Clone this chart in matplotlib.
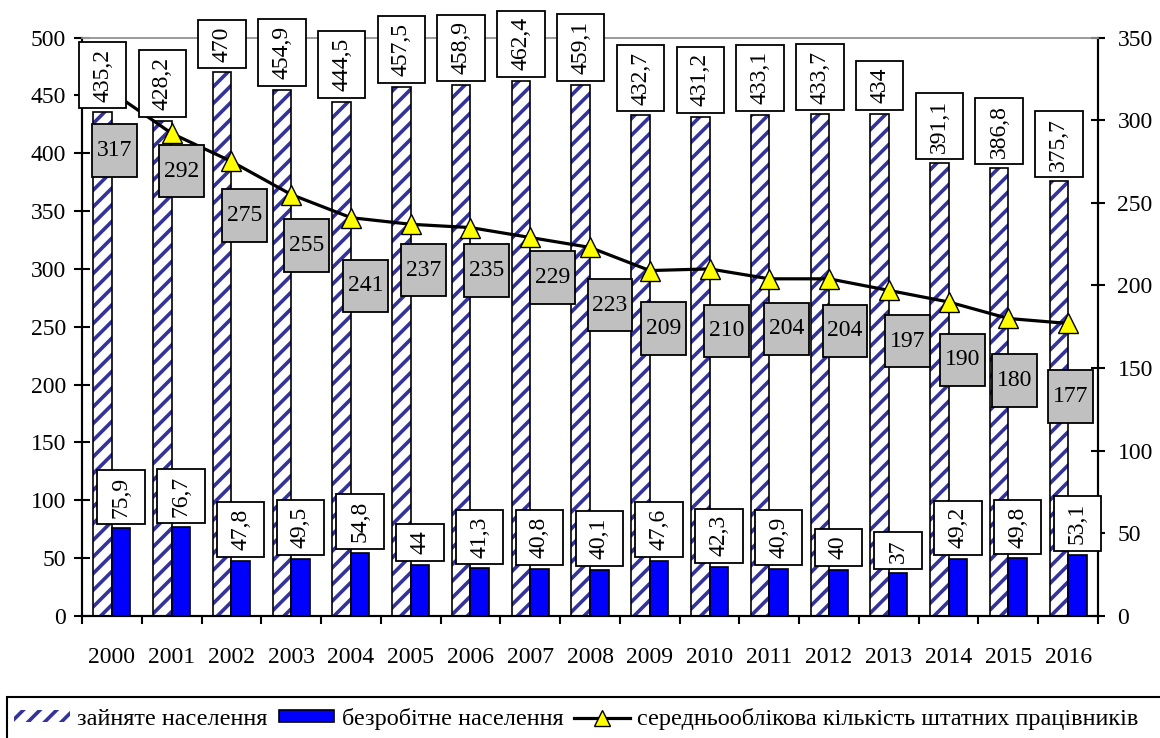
import matplotlib
matplotlib.use('Agg')
import matplotlib.pyplot as plt
import numpy as np
from matplotlib.path import Path
from matplotlib.patches import Patch, Rectangle
from matplotlib.lines import Line2D

years = ['2000', '2001', '2002', '2003', '2004', '2005', '2006', '2007', '2008',
         '2009', '2010', '2011', '2012', '2013', '2014', '2015', '2016']
employed = [435.2, 428.2, 470, 454.9, 444.5, 457.5, 458.9, 462.4, 459.1,
            432.7, 431.2, 433.1, 433.7, 434, 391.1, 386.8, 375.7]
unemployed = [75.9, 76.7, 47.8, 49.5, 54.8, 44, 41.3, 40.8, 40.1,
              47.6, 42.3, 40.9, 40, 37, 49.2, 49.8, 53.1]
staff = [317, 292, 275, 255, 241, 237, 235, 229, 223,
         209, 210, 204, 204, 197, 190, 180, 177]

series_names = ['зайняте населення', 'безробітне населення',
                'середньооблікова кількість штатних працівників']
left_ticks = [0, 50, 100, 150, 200, 250, 300, 350, 400, 450, 500]
right_ticks = [0, 50, 100, 150, 200, 250, 300, 350]

# label placement offsets for grey labels (pixels: right, down)
staff_dx = [2.5, 10, 13, 15, 15, 13, 16, 22, 20, 14, 17, 17, 16, 19, 14, 6, 2]
staff_dy = [58.5, 38, 54, 51, 68, 46, 43, 40, 58, 58, 62, 50, 52, 51, 58, 62, 73]

plt.rcParams['font.family'] = ['Liberation Serif', 'DejaVu Serif']
plt.rcParams['hatch.linewidth'] = 2.6
FS = 17
LFS = 17.5
HATCH_COL = '#333399'

def make_box(px, py):
    def box(x0, y0, width, height, mutation_size):
        padx = px * mutation_size
        pady = py * mutation_size
        xa, ya = x0 - padx, y0 - pady
        xb, yb = x0 + width + padx, y0 + height + pady
        return Path([(xa, ya), (xb, ya), (xb, yb), (xa, yb), (xa, ya)], closed=True)
    return box

fmt = lambda v: f"{v:g}".replace('.', ',')

fig = plt.figure(figsize=(11.6, 7.38), dpi=100)
ax = fig.add_axes([82/1160, 1-616/738, (1098-82)/1160, (616-37.5)/738])
ax2 = ax.twinx()

x = np.arange(len(years))
w = 0.31
# hatched employed bars
ax.bar(x - w/2, employed, width=w, color='white', edgecolor=HATCH_COL, hatch='//', linewidth=0, zorder=2)
ax.bar(x - w/2, employed, width=w, fill=False, edgecolor='black', linewidth=1.2, zorder=3)
ax.bar(x + w/2, unemployed, width=w, color='#0000FF', edgecolor='black', linewidth=1.2, zorder=3)

ax.set_xlim(-0.5, len(years) - 0.5)
ax.set_ylim(0, 500)
ax2.set_ylim(0, 350)
ax.set_yticks(left_ticks)
ax2.set_yticks(right_ticks)
ax.tick_params(axis='y', direction='inout', length=11, width=1.5, labelsize=FS, pad=6)
ax2.tick_params(axis='y', direction='inout', length=10, width=1.5, labelsize=FS, pad=9)

ax.set_xticks(np.arange(len(years) + 1) - 0.5)
ax.set_xticklabels([])
ax.set_xticks(x, minor=True)
ax.set_xticklabels(years, minor=True)
ax.tick_params(axis='x', which='major', direction='out', length=6, width=1.5)
ax.tick_params(axis='x', which='minor', length=0, labelsize=FS, pad=22)

for a in (ax, ax2):
    for s in ('left', 'right', 'bottom'):
        a.spines[s].set_linewidth(1.5)
        a.spines[s].set_color('black')
    a.spines['top'].set_color('#9a9a9a')
    a.spines['top'].set_linewidth(1.2)

ax2.plot(x, staff, color='black', lw=2.3, marker='^', ms=14, mfc='#FFFF00',
         mec='black', mew=1, zorder=4)

white_box = dict(boxstyle=make_box(0.28, 0.56), fc='white', ec='black', lw=1.3)
grey_box = dict(boxstyle=make_box(0.2, 0.66), fc='#C0C0C0', ec='black', lw=1.3)
along = 0.28 * FS * 100 / 72

for i in range(len(years)):
    ax2.annotate(fmt(employed[i]), xy=(x[i] - w/2, employed[i]), xycoords=ax.transData,
                 xytext=(0, 4 + along), textcoords='offset pixels', rotation=90,
                 ha='center', va='bottom', fontsize=FS, bbox=white_box, zorder=6,
                 annotation_clip=False)
    ax2.annotate(fmt(unemployed[i]), xy=(x[i] + w/2, unemployed[i]), xycoords=ax.transData,
                 xytext=(0, 4 + along), textcoords='offset pixels', rotation=90,
                 ha='center', va='bottom', fontsize=FS, bbox=white_box, zorder=6,
                 annotation_clip=False)
    ax2.annotate(fmt(staff[i]), xy=(x[i], staff[i]), xycoords=ax2.transData,
                 xytext=(staff_dx[i], -staff_dy[i]), textcoords='offset pixels',
                 ha='center', va='center', fontsize=FS, bbox=grey_box, zorder=6,
                 annotation_clip=False)

# legend frame
fig.add_artist(Rectangle((7/1160, -0.05), 1.0, 0.05 + 1 - 697/738, transform=fig.transFigure,
                         fill=False, edgecolor='black', linewidth=1.5, clip_on=False))
handles = [Patch(facecolor='white', edgecolor=HATCH_COL, hatch='//', linewidth=0),
           Patch(facecolor='#0000FF', edgecolor='black', linewidth=1.2),
           Line2D([], [], color='black', lw=2.3, marker='^', ms=12, mfc='#FFFF00', mec='black', mew=1)]
leg = fig.legend(handles, series_names, loc='center left', ncol=3,
                 bbox_to_anchor=(14/1160, 1 - 719/738),
                 borderaxespad=0, borderpad=0, frameon=False,
                 fontsize=LFS, handlelength=2.3, handleheight=0.4, handletextpad=0.3,
                 columnspacing=0.45)

fig.savefig('out.png', dpi=100)
